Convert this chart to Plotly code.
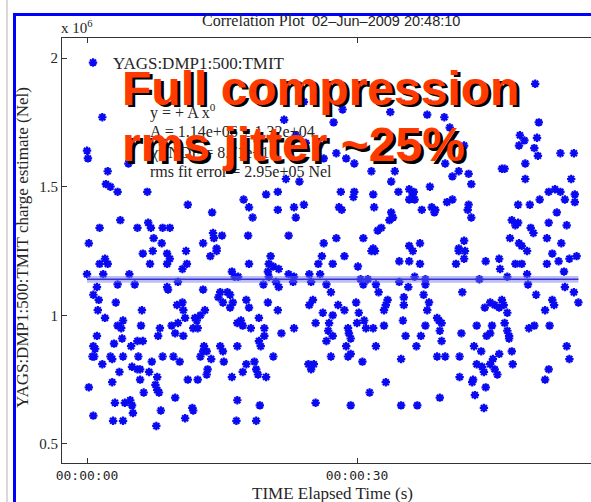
import plotly.graph_objects as go

# Beam charge samples: elapsed time (s) and TMIT charge estimate (units of 1e6 Nel)
elapsed_s = [
    1.7, 0.0, 0.1, 4.6, 2.3, 2.1, 2.6, 3.4, 6.7, 11.2,
    13.9, 3.7, 1.4, 5.6, 6.8, 7.1, 8.4, 9.2, 7.4, 8.3,
    14.0, 14.1, 15.0, 12.9, 0.2, 14.4,
    24.1, 28.4, 33.7, 27.4, 21.9, 23.2, 24.3, 25.8, 27.7, 28.8,
    29.7, 26.3, 22.1, 23.6, 31.6, 34.2, 33.8, 34.6, 35.8, 36.2,
    35.8, 19.9, 21.2, 28.2, 29.6, 29.7, 31.8, 17.4, 18.0, 21.2,
    23.0, 24.1, 28.0, 28.3, 31.9, 18.4, 23.2, 33.8, 34.0, 33.6,
    22.4, 17.9, 27.7, 32.7, 32.3, 30.7, 26.3, 35.8, 31.8,
    49.8, 37.8, 39.7, 50.2, 40.3, 48.1, 48.6, 50.0, 48.0, 49.7,
    50.1, 41.9, 52.6, 54.1, 39.8, 46.1, 46.4, 48.7, 40.6, 41.3,
    42.4, 42.7, 48.7, 53.8, 38.1, 51.3, 52.0, 52.6, 53.1, 54.2,
    54.2, 36.3, 36.4, 37.2, 38.3, 38.7, 38.6, 40.0, 40.6, 42.4,
    42.3, 42.7, 47.9, 49.2, 50.3, 52.2, 47.2, 47.6, 47.9, 49.3,
    49.6, 51.3, 53.3, 47.0, 48.0, 48.3, 51.1, 52.7, 41.9, 41.3,
    37.0,
    6.2, 7.3, 8.9, 11.0, 2.0, 1.4, 2.3, 7.0, 8.9, 9.2,
    11.1, 10.6, 13.7, 14.4, 0.0, 1.8, 4.7, 16.1, 16.4, 3.4,
    5.3, 8.9, 9.0, 10.1, 12.9, 1.1, 0.7, 1.3, 3.2, 14.8,
    14.6, 15.6, 15.9, 15.1, 16.2, 15.9, 10.6, 10.0, 10.7, 1.2,
    2.0, 6.1, 13.1, 12.6, 12.0, 12.2, 4.0, 3.4, 3.8, 6.0,
    8.1, 7.9, 9.4, 10.1, 10.9, 11.8, 12.3, 9.8, 10.7, 16.7,
    1.1, 3.9, 6.2, 5.6, 4.9, 3.0, 0.7, 0.9, 0.6, 0.8,
    13.0, 12.9, 13.3, 14.8, 15.1, 15.2, 16.7, 1.7, 2.6, 2.8,
    4.0, 5.7, 7.2, 8.4, 9.6, 10.3, 12.6, 13.8, 5.0, 5.6,
    5.9, 3.6, 6.9, 7.8, 13.4, 13.3, 16.1, 11.2, 12.3, 2.8,
    5.9, 7.6, 7.8, 8.0, 6.3, 0.2, 9.8, 3.1, 4.2, 4.8,
    5.0, 5.1, 11.7, 11.8, 16.7, 8.2, 0.7, 2.9, 4.0, 10.9,
    16.6, 7.7,
    20.4, 20.2, 20.7, 20.1, 21.3, 18.0, 26.1, 25.7, 27.3, 28.6,
    30.1, 31.6, 32.0, 34.7, 35.8, 36.2, 16.8, 20.2, 21.0, 19.6,
    21.3, 22.4, 23.0, 22.9, 24.7, 24.9, 25.9, 26.6, 27.1, 30.4,
    30.7, 31.2, 32.1, 32.4, 34.7, 35.7, 17.7, 18.0, 20.1, 21.2,
    25.1, 24.7, 27.9, 28.6, 29.9, 33.4, 33.2, 33.0, 35.2, 35.2,
    26.2, 27.3, 30.2, 30.8, 31.0, 31.8, 30.0, 35.1, 17.3, 17.1,
    18.2, 19.1, 19.7, 19.7, 21.6, 23.0, 25.4, 26.9, 26.8, 27.3,
    26.6, 29.0, 29.1, 29.3, 33.0, 35.4, 19.1, 19.3, 32.1, 28.8,
    29.3, 29.0, 20.7, 27.1, 30.6, 34.9, 18.6, 17.7, 17.3, 18.8,
    19.0, 19.9, 24.6, 25.2, 24.9, 33.2, 31.4, 19.2, 25.4, 29.3,
    34.9, 18.8,
    41.3, 42.0, 41.9, 41.0, 44.3, 45.8, 45.9, 47.6, 48.3, 48.9,
    51.1, 51.7, 52.4, 53.6, 54.4, 53.0, 37.0, 36.4, 37.6, 37.6,
    43.6, 46.7, 48.9, 49.0, 53.1, 54.1, 54.6, 41.7, 37.4, 38.0,
    37.8, 49.9, 51.7, 51.9, 50.9, 44.2, 44.8, 45.3, 45.8, 46.1,
    46.3, 46.7, 39.1, 39.4, 38.9, 37.6, 37.1, 36.6, 39.2, 39.4,
    41.6, 43.3, 45.0, 46.4, 46.7, 46.9, 46.9, 44.4, 44.8, 49.1,
    49.7, 51.4, 43.0, 43.8, 38.9, 39.8, 41.4, 47.2, 45.8, 45.1,
    44.8, 43.3, 43.9, 44.1, 45.3, 45.6, 47.3, 53.3, 53.6, 51.3,
    41.4, 42.9, 42.8, 50.9, 44.3, 39.2, 43.1, 36.7, 44.1,
]

charge_1e6 = [
    1.77, 1.64, 1.61, 1.59, 1.56, 1.51, 1.50, 1.48, 1.48, 1.43,
    1.40, 1.37, 1.34, 1.34, 1.36, 1.34, 1.34, 1.34, 1.30, 1.28,
    1.32, 1.30, 1.31, 1.28, 1.28, 1.26,
    1.83, 1.80, 1.79, 1.75, 1.76, 1.70, 1.67, 1.66, 1.63, 1.61,
    1.59, 1.61, 1.53, 1.52, 1.56, 1.56, 1.52, 1.48, 1.49, 1.47,
    1.45, 1.47, 1.48, 1.48, 1.46, 1.48, 1.47, 1.45, 1.42, 1.41,
    1.42, 1.43, 1.42, 1.41, 1.42, 1.38, 1.38, 1.40, 1.38, 1.37,
    1.31, 1.31, 1.30, 1.34, 1.33, 1.30, 1.28, 1.27, 1.26,
    1.90, 1.78, 1.77, 1.75, 1.73, 1.70, 1.68, 1.69, 1.66, 1.65,
    1.62, 1.66, 1.63, 1.63, 1.59, 1.57, 1.57, 1.59, 1.54, 1.56,
    1.55, 1.51, 1.53, 1.53, 1.50, 1.48, 1.49, 1.48, 1.45, 1.47,
    1.44, 1.48, 1.45, 1.41, 1.42, 1.41, 1.40, 1.44, 1.45, 1.43,
    1.41, 1.38, 1.43, 1.43, 1.45, 1.40, 1.37, 1.35, 1.36, 1.34,
    1.32, 1.36, 1.35, 1.30, 1.28, 1.27, 1.30, 1.28, 1.29, 1.26,
    1.28,
    1.24, 1.25, 1.24, 1.25, 1.22, 1.20, 1.20, 1.20, 1.20, 1.22,
    1.20, 1.18, 1.23, 1.25, 1.16, 1.16, 1.16, 1.17, 1.15, 1.12,
    1.12, 1.11, 1.10, 1.13, 1.10, 1.11, 1.08, 1.06, 1.05, 1.09,
    1.07, 1.09, 1.08, 1.05, 1.05, 1.03, 1.05, 1.04, 1.02, 1.02,
    0.99, 1.02, 1.02, 1.00, 0.99, 0.98, 0.98, 0.96, 0.95, 0.96,
    0.95, 0.92, 0.96, 0.97, 0.99, 0.95, 0.95, 0.93, 0.92, 0.97,
    0.92, 0.91, 0.90, 0.90, 0.88, 0.89, 0.88, 0.87, 0.84, 0.84,
    0.88, 0.86, 0.86, 0.88, 0.86, 0.82, 0.88, 0.81, 0.84, 0.83,
    0.84, 0.84, 0.82, 0.84, 0.84, 0.82, 0.84, 0.83, 0.80, 0.79,
    0.79, 0.78, 0.78, 0.76, 0.79, 0.77, 0.76, 0.75, 0.75, 0.74,
    0.75, 0.73, 0.71, 0.70, 0.70, 0.72, 0.68, 0.66, 0.66, 0.67,
    0.65, 0.62, 0.64, 0.63, 0.67, 0.63, 0.61, 0.59, 0.59, 0.60,
    0.59, 0.57,
    1.23, 1.20, 1.19, 1.17, 1.18, 1.20, 1.23, 1.20, 1.20, 1.23,
    1.19, 1.25, 1.25, 1.21, 1.21, 1.25, 1.15, 1.15, 1.13, 1.12,
    1.11, 1.16, 1.15, 1.13, 1.16, 1.13, 1.16, 1.12, 1.09, 1.14,
    1.12, 1.14, 1.12, 1.09, 1.13, 1.11, 1.06, 1.03, 1.05, 1.02,
    1.06, 1.04, 1.04, 1.02, 1.05, 1.06, 1.04, 1.02, 1.07, 1.04,
    1.01, 1.00, 1.01, 0.98, 0.95, 0.95, 0.97, 0.98, 0.96, 0.98,
    0.95, 0.99, 0.95, 0.92, 0.93, 0.95, 0.97, 0.97, 0.94, 0.92,
    0.90, 0.95, 0.93, 0.91, 0.96, 0.92, 0.90, 0.88, 0.88, 0.88,
    0.85, 0.84, 0.84, 0.84, 0.82, 0.83, 0.82, 0.81, 0.78, 0.79,
    0.77, 0.76, 0.81, 0.81, 0.79, 0.74, 0.70, 0.65, 0.66, 0.65,
    0.65, 0.59,
    1.25, 1.25, 1.22, 1.20, 1.21, 1.22, 1.18, 1.20, 1.20, 1.25,
    1.20, 1.24, 1.21, 1.22, 1.23, 1.17, 1.20, 1.15, 1.14, 1.12,
    1.14, 1.15, 1.16, 1.12, 1.11, 1.09, 1.05, 1.09, 1.08, 1.05,
    1.02, 1.08, 1.06, 1.04, 1.02, 1.03, 1.05, 1.04, 1.03, 1.06,
    1.04, 1.01, 0.98, 0.97, 0.99, 0.96, 0.92, 0.88, 0.94, 0.90,
    0.93, 0.96, 0.96, 0.97, 0.94, 0.92, 0.91, 0.92, 0.93, 0.95,
    0.96, 0.96, 0.88, 0.86, 0.84, 0.84, 0.84, 0.86, 0.85, 0.83,
    0.81, 0.81, 0.80, 0.78, 0.79, 0.77, 0.81, 0.88, 0.83, 0.79,
    0.76, 0.75, 0.74, 0.75, 0.72, 0.68, 0.69, 0.65, 0.64,
]

# Constant fit y = A x^0 (units of 1e6 Nel)
fit_A = 1.14
fit_A_err = 0.0132

x_tick_vals = [0, 30]
x_tick_text = ["00:00:00", "00:00:30"]
y_tick_vals = [0.5, 1, 1.5, 2]
y_tick_text = ["0.5", "1", "1.5", "2"]

series_name = "YAGS:DMP1:500:TMIT"
fit_lines = [
    "y = + A x<sup>0</sup>",
    "A = 1.14e+06 \u00b1 1.32e+04",
    "\u03c7<sup>2</sup>/NDF = 8.71e+10",
    "rms fit error = 2.95e+05 Nel",
]

# ---- page geometry (pixels) ----
W, H = 591, 502
ML, MR, MT, MB = 62, 0, 38, 39
PW, PH = W - ML - MR, H - MT - MB


def px(x):
    return (x - ML) / PW


def py(y):
    return (H - MB - y) / PH


BLUE = "#0a0af2"
SERIF = "Liberation Serif, Times New Roman, serif"
SANS = "Liberation Sans, Arial, sans-serif"
TXT = "#262626"

fig = go.Figure()

fig.add_trace(go.Scatter(
    x=elapsed_s, y=charge_1e6, mode="markers", name=series_name,
    marker=dict(symbol="asterisk", size=7, color=BLUE,
                line=dict(color=BLUE, width=2.2)),
))

t0, t1 = min(elapsed_s), max(elapsed_s)
fig.add_trace(go.Scatter(
    x=[t0, t1], y=[fit_A - fit_A_err] * 2, mode="lines",
    line=dict(width=0, color="rgba(0,0,0,0)"), showlegend=False, hoverinfo="skip",
))
fig.add_trace(go.Scatter(
    x=[t0, t1], y=[fit_A + fit_A_err] * 2, mode="lines", fill="tonexty",
    fillcolor="rgba(110,110,235,0.45)",
    line=dict(width=0, color="rgba(0,0,0,0)"), showlegend=False, hoverinfo="skip",
))
fig.add_trace(go.Scatter(
    x=[t0, t1], y=[fit_A, fit_A], mode="lines",
    line=dict(color="#3434d6", width=1.6), showlegend=False,
))

annotations = []

# title strip
annotations.append(dict(x=px(307), y=py(21), xref="paper", yref="paper",
                        text="Correlation Plot", showarrow=False,
                        xanchor="right", yanchor="middle",
                        font=dict(family=SERIF, size=16, color=TXT)))
annotations.append(dict(x=px(310), y=py(21), xref="paper", yref="paper",
                        text="02\u2013Jun\u20132009 20:48:10", showarrow=False,
                        xanchor="left", yanchor="middle",
                        font=dict(family=SANS, size=14.5, color=TXT)))

# axis multiplier
annotations.append(dict(x=px(59), y=py(27), xref="paper", yref="paper",
                        text="x 10<sup>6</sup>", showarrow=False,
                        xanchor="left", yanchor="middle",
                        font=dict(family=SERIF, size=15, color=TXT)))

# fit results
for line, yy in zip(fit_lines, [112, 131, 151, 171]):
    annotations.append(dict(x=px(148), y=py(yy), xref="paper", yref="paper",
                            text=line, showarrow=False,
                            xanchor="left", yanchor="middle",
                            font=dict(family=SERIF, size=16, color=TXT)))

# axis titles
annotations.append(dict(x=px(22), y=py(248), xref="paper", yref="paper",
                        text="YAGS:DMP1:500:TMIT charge estimate (Nel)",
                        textangle=-90, showarrow=False,
                        xanchor="center", yanchor="middle",
                        font=dict(family=SERIF, size=17, color=TXT)))
annotations.append(dict(x=px(332), y=py(493), xref="paper", yref="paper",
                        text="TIME Elapsed Time (s)", showarrow=False,
                        xanchor="center", yanchor="middle",
                        font=dict(family=SERIF, size=17, color=TXT)))

# headline with drop shadow
for text, yy in [("Full compression", 88), ("rms jitter ~25%", 145)]:
    for color, shift in [("#000000", 2.5), ("#ff3a00", 0)]:
        annotations.append(dict(x=px(120), y=py(yy), xref="paper", yref="paper",
                                text="<b>" + text + "</b>", showarrow=False,
                                xanchor="left", yanchor="middle",
                                xshift=shift, yshift=-shift,
                                font=dict(family=SANS, size=48, color=color)))

shapes = [
    # slide edge
    dict(type="line", xref="paper", yref="paper",
         x0=px(7), x1=px(7), y0=py(0), y1=py(H + 5),
         line=dict(color="#d9d9d9", width=2)),
    # blue frame
    dict(type="line", xref="paper", yref="paper",
         x0=px(14.5), x1=px(14.5), y0=py(13), y1=py(H + 5),
         line=dict(color="#0000ff", width=3)),
    dict(type="line", xref="paper", yref="paper",
         x0=px(13), x1=px(W + 5), y0=py(14.5), y1=py(14.5),
         line=dict(color="#0000ff", width=3)),
]

fig.update_layout(
    width=W, height=H,
    margin=dict(l=ML, r=MR, t=MT, b=MB, pad=0),
    paper_bgcolor="white", plot_bgcolor="white",
    showlegend=True,
    legend=dict(x=px(73), y=py(45), xanchor="left", yanchor="top",
                bgcolor="rgba(0,0,0,0)", borderwidth=0,
                font=dict(family=SERIF, size=17, color=TXT)),
    annotations=annotations,
    shapes=shapes,
    xaxis=dict(range=[-2.78, 56.0], tickvals=x_tick_vals, ticktext=x_tick_text,
               ticks="inside", ticklen=5, tickcolor="#333",
               showline=True, linecolor="#333", linewidth=1, mirror="ticks",
               showgrid=False, zeroline=False,
               tickfont=dict(family="DejaVu Sans Mono, monospace", size=13, color=TXT)),
    yaxis=dict(range=[0.426, 2.078], tickvals=y_tick_vals, ticktext=y_tick_text,
               ticks="inside", ticklen=5, tickcolor="#333",
               showline=True, linecolor="#333", linewidth=1, mirror=False,
               showgrid=False, zeroline=False,
               tickfont=dict(family=SERIF, size=15, color=TXT)),
)

fig.write_html("out.html")
